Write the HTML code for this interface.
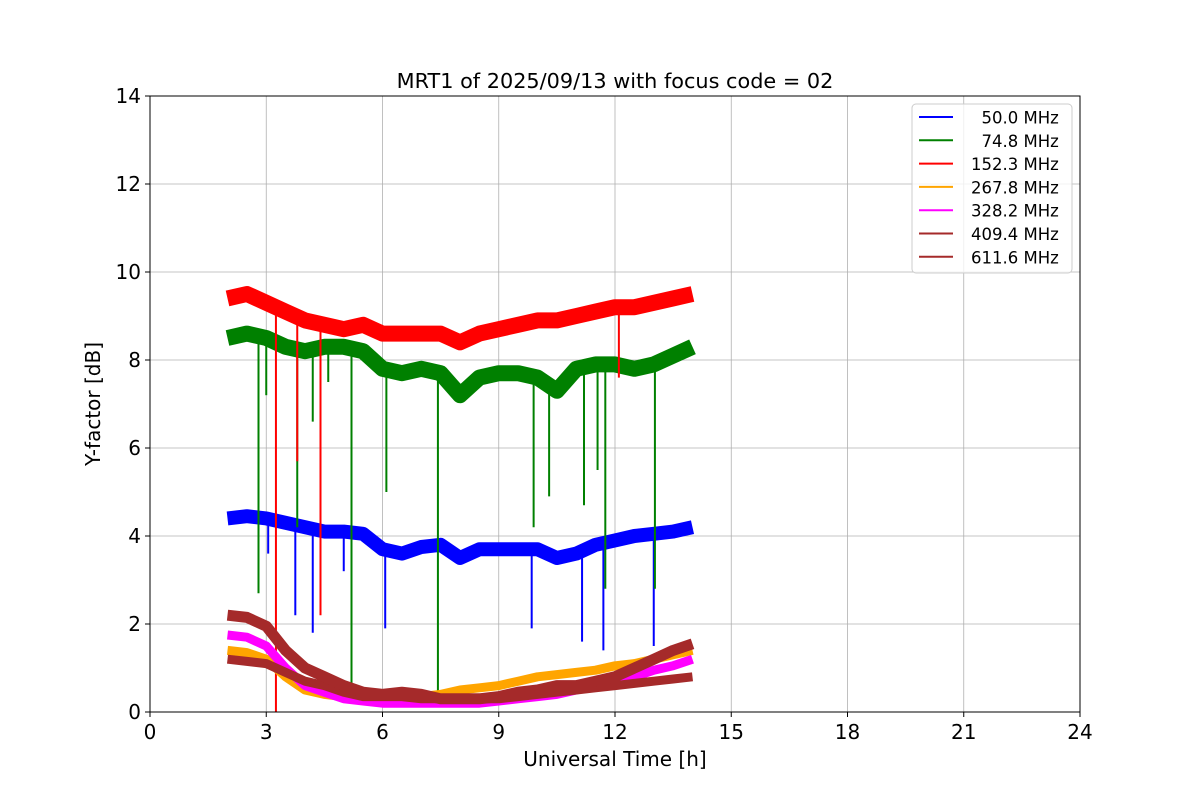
<!DOCTYPE html>
<html><head><meta charset="utf-8"><style>
body{margin:0;background:#fff;}
svg{font-family:"DejaVu Sans","Liberation Sans",sans-serif;}
</style></head><body>
<svg id="chart" width="1200" height="800" xmlns="http://www.w3.org/2000/svg">
<rect width="1200" height="800" fill="#fff"/>
<g id="grid"></g>
<g id="series"></g>
<rect x="150" y="96" width="930" height="616" fill="none" stroke="#000" stroke-width="1"/>
<g id="ticks"></g>
<text x="615" y="88" text-anchor="middle" font-size="20.8">MRT1 of 2025/09/13 with focus code = 02</text>
<text x="615" y="766" text-anchor="middle" font-size="20">Universal Time [h]</text>
<text x="100" y="404" text-anchor="middle" font-size="20" transform="rotate(-90 100 404)">Y-factor [dB]</text>
<g id="legend"></g>
</svg>
<script>
const xTicks=[0,3,6,9,12,15,18,21,24];
const yTicks=[0,2,4,6,8,10,12,14];
const times=[2,2.5,3,3.5,4,4.5,5,5.5,6,6.5,7,7.5,8,8.5,9,9.5,10,10.5,11,11.5,12,12.5,13,13.5,14];
const labels=[" 50.0 MHz"," 74.8 MHz","152.3 MHz","267.8 MHz","328.2 MHz","409.4 MHz","611.6 MHz"];
const colors=["#0000ff","#008000","#ff0000","#ffa500","#ff00ff","#a52a2a","#a52a2a"];
const s50=[4.4,4.45,4.4,4.3,4.2,4.1,4.1,4.05,3.7,3.6,3.75,3.8,3.5,3.7,3.7,3.7,3.7,3.5,3.6,3.8,3.9,4.0,4.05,4.1,4.2];
const s75=[8.5,8.6,8.5,8.3,8.2,8.3,8.3,8.2,7.8,7.7,7.8,7.7,7.2,7.6,7.7,7.7,7.6,7.3,7.8,7.9,7.9,7.8,7.9,8.1,8.3];
const s152=[9.4,9.5,9.3,9.1,8.9,8.8,8.7,8.8,8.6,8.6,8.6,8.6,8.4,8.6,8.7,8.8,8.9,8.9,9.0,9.1,9.2,9.2,9.3,9.4,9.5];
const s268=[1.4,1.35,1.2,0.8,0.5,0.4,0.35,0.3,0.3,0.3,0.35,0.4,0.5,0.55,0.6,0.7,0.8,0.85,0.9,0.95,1.05,1.1,1.2,1.3,1.4];
const s328=[1.75,1.7,1.5,1.0,0.6,0.45,0.3,0.25,0.2,0.2,0.2,0.2,0.2,0.2,0.25,0.3,0.35,0.4,0.5,0.6,0.7,0.8,0.95,1.05,1.2];
const s409=[1.2,1.15,1.1,0.9,0.7,0.6,0.45,0.35,0.35,0.35,0.3,0.3,0.3,0.3,0.3,0.35,0.4,0.45,0.5,0.55,0.6,0.65,0.7,0.75,0.8];
const s612=[2.2,2.15,1.95,1.4,1.0,0.8,0.6,0.45,0.4,0.45,0.4,0.3,0.3,0.3,0.35,0.45,0.5,0.6,0.6,0.7,0.8,1.0,1.2,1.4,1.55];
const spikes50T=[3.05,3.75,4.2,5.0,6.07,9.85,11.15,11.7,13.0];
const spikes50V=[3.6,2.2,1.8,3.2,1.9,1.9,1.6,1.4,1.5];
const spikes75T=[2.8,3.0,3.8,4.2,4.6,5.2,6.1,7.43,9.9,10.3,11.2,11.55,11.75,13.03];
const spikes75V=[2.7,7.2,4.2,6.6,7.5,0.6,5.0,0.2,4.2,4.9,4.7,5.5,2.8,2.8];
const spikes152T=[3.25,3.8,4.4,12.1];
const spikes152V=[0,5.7,2.2,7.6];
const bandWidth=[14,16,16,9,9,9,11];

const X0=150,X1=1080,Y0=712,Y1=96;
const xs=t=>X0+(t-0)/24*(X1-X0);
const ys=v=>Y0-(v-0)/14*(Y0-Y1);
const NS="http://www.w3.org/2000/svg";
function mk(tag,attrs,parent){const e=document.createElementNS(NS,tag);for(const k in attrs)e.setAttribute(k,attrs[k]);parent.appendChild(e);return e;}
const grid=document.getElementById('grid'),ticks=document.getElementById('ticks'),ser=document.getElementById('series'),leg=document.getElementById('legend');
xTicks.forEach(t=>{
 const l=mk('line',{x1:xs(t),x2:xs(t),y1:Y1,y2:Y0,stroke:'#b0b0b0','stroke-width':0.8},grid);
 
 
 const tk=mk('line',{x1:xs(t),x2:xs(t),y1:Y0,y2:Y0+5,stroke:'#000'},ticks);
 
 
 const tx=mk('text',{x:xs(t),y:Y0+27,'text-anchor':'middle','font-size':20},ticks);
 tx.textContent=t;
 
 
});
yTicks.forEach(v=>{
 const l=mk('line',{x1:X0,x2:X1,y1:ys(v),y2:ys(v),stroke:'#b0b0b0','stroke-width':0.8},grid);
 
 
 const tk=mk('line',{x1:X0-5,x2:X0,y1:ys(v),y2:ys(v),stroke:'#000'},ticks);
 
 
 const tx=mk('text',{x:X0-9,y:ys(v)+7,'text-anchor':'end','font-size':20},ticks);
 tx.textContent=v;
 
 
});
const allSeries=[s50,s75,s152,s268,s328,s409,s612];
function interp(s,t){for(let j=0;j<times.length-1;j++){if(t>=times[j]&&t<=times[j+1]){const f=(t-times[j])/(times[j+1]-times[j]);return s[j]+f*(s[j+1]-s[j]);}}return s[s.length-1];}
function spikes(T,V,s,c){T.forEach((t,k)=>{
 const l=mk('line',{x1:xs(t),x2:xs(t),y1:ys(interp(s,t)),y2:ys(V[k]),stroke:c,'stroke-width':2},ser);
 
 
});}
const spikeT=[spikes50T,spikes75T,spikes152T];
const spikeV=[spikes50V,spikes75V,spikes152V];
allSeries.forEach((s,i)=>{
 const d=s.map((v,j)=>(j?'L':'M')+xs(times[j]).toFixed(1)+','+ys(v).toFixed(1)).join(' ');
 const p=mk('path',{d:d,fill:'none',stroke:colors[i],'stroke-width':bandWidth[i],'stroke-linejoin':'round','stroke-linecap':'butt'},ser);
 
 
 if(i<3) spikes(spikeT[i],spikeV[i],s,colors[i]);
});
const lb=mk('rect',{x:912,y:104,width:160,height:169,rx:4,fill:'#fff','fill-opacity':0.8,stroke:'#ccc'},leg);


labels.forEach((lab,i)=>{
 const y=117+i*23.3;
 const l=mk('line',{x1:919,x2:953,y1:y,y2:y,stroke:colors[i],'stroke-width':2},leg);
 
 
 const t=mk('text',{x:971,y:y+6.5,'text-anchor':'start','font-size':16.5},leg);
 t.textContent=lab.replace(/^ /,'\u00a0\u00a0');
 
 
});
</script>
</body></html>
